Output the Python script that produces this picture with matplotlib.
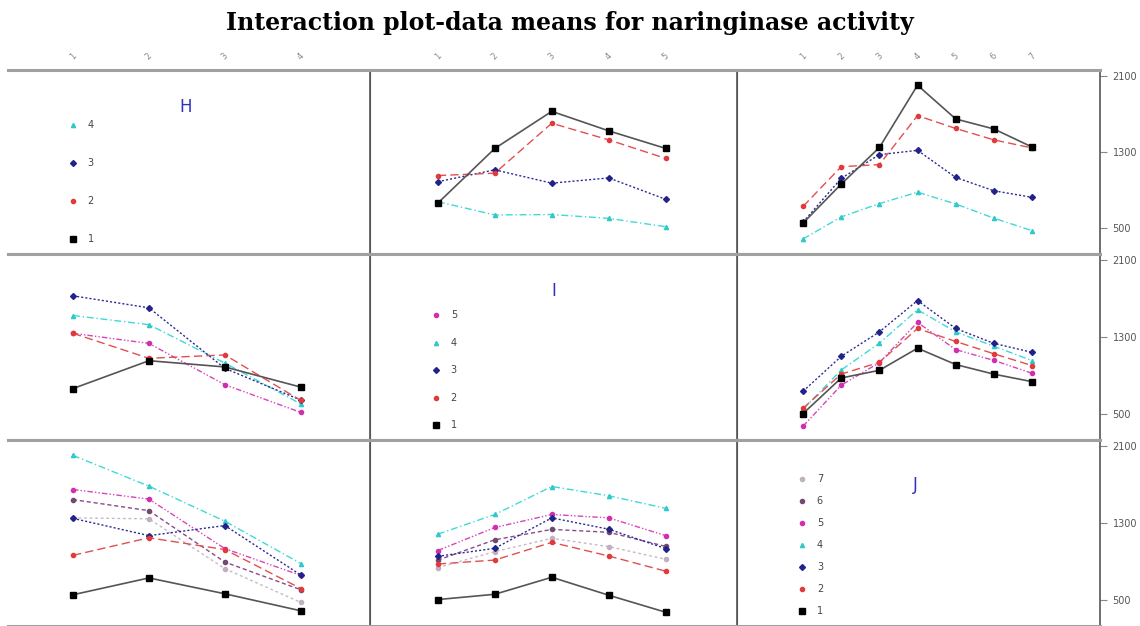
import matplotlib
matplotlib.use("Agg")
import matplotlib.pyplot as plt

# factor levels
h_levels = [1, 2, 3, 4]
i_levels = [1, 2, 3, 4, 5]
j_levels = [1, 2, 3, 4, 5, 6, 7]

# cell means, rows = first factor, cols = second factor
hi_means = [
    [760, 1335, 1725, 1520, 1335],
    [1050, 1075, 1600, 1425, 1230],
    [985, 1110, 970, 1025, 800],
    [775, 636, 640, 600, 512],
]
hj_means = [
    [550, 960, 1345, 2000, 1645, 1540, 1350],
    [725, 1143, 1165, 1680, 1545, 1425, 1340],
    [560, 1020, 1270, 1315, 1030, 890, 821],
    [383, 615, 755, 875, 751, 602, 470],
]
ij_means = [
    [500, 870, 950, 1180, 1010, 910, 832],
    [555, 911, 1033, 1385, 1250, 1122, 999],
    [732, 1095, 1350, 1676, 1385, 1230, 1137],
    [545, 953, 1232, 1580, 1350, 1200, 1051],
    [368, 795, 1030, 1449, 1165, 1053, 919],
]
y_ticks = [500, 1300, 2100]
title = "Interaction plot-data means for naringinase activity"

# style per level
line_cols = ['#555555', '#e05050', '#2a2a95', '#40d8d8', '#d845b8', '#8a4a8a', '#c8b8c8']
mark_cols = ['black', '#e03a3a', '#22228a', '#30c8c8', '#d030b0', '#704a70', '#c0b0c0']
styles = ['-', (0, (6, 3)), (0, (1.5, 1.5)), (0, (5, 2, 1, 2)), (0, (4, 1.5, 1, 1.5, 1, 1.5)),
          (0, (3, 2)), (0, (2, 2))]
markers = ['s', 'o', 'D', '^', 'o', 'o', 'o']
msizes = [5, 3, 3, 3, 3, 3, 3]

fig = plt.figure(figsize=(11.4, 6.26), dpi=100)
W, H = 1140.0, 626.0
cols_px = [(8, 370), (370, 737), (737, 1100)]
rows_px = [(70, 254), (254, 440), (440, 626)]
xlims = [(0.145, 4.91), (-0.19, 6.25), (-0.73, 8.78)]
levels = [h_levels, i_levels, j_levels]
names = ['H', 'I', 'J']

def draw(ax, x, series):
    n = len(series)
    for k in range(n - 1, -1, -1):
        ax.plot(x, series[k], color=line_cols[k], linestyle=styles[k], lw=1.2 if k == 0 else 1.0,
                marker=markers[k], markersize=msizes[k], markerfacecolor=mark_cols[k],
                markeredgecolor=mark_cols[k])

axes = {}
for r in range(3):
    for c in range(3):
        x0, x1 = cols_px[c]
        y0, y1 = rows_px[r]
        ax = fig.add_axes([x0 / W, 1 - y1 / H, (x1 - x0) / W, (y1 - y0) / H])
        ax.set_xlim(*xlims[c])
        ax.set_ylim(225, 2160)
        ax.set_xticks([])
        ax.set_yticks([])
        for s in ['top', 'bottom']:
            ax.spines[s].set_color('#a0a0a0')
            ax.spines[s].set_linewidth(2.2)
        ax.spines['left'].set_visible(c != 0)
        ax.spines['left'].set_color('#555555')
        ax.spines['right'].set_color('#555555')
        ax.spines['right'].set_linewidth(1.2)
        axes[(r, c)] = ax

# off-diagonal panels
draw(axes[(0, 1)], i_levels, hi_means)
draw(axes[(0, 2)], j_levels, hj_means)
draw(axes[(1, 0)], h_levels, [[row[k] for row in hi_means] for k in range(len(i_levels))])
draw(axes[(1, 2)], j_levels, ij_means)
draw(axes[(2, 0)], h_levels, [[row[k] for row in hj_means] for k in range(len(j_levels))])
draw(axes[(2, 1)], i_levels, [[row[k] for row in ij_means] for k in range(len(j_levels))])

# diagonal: factor name and legend
name_pos = [(0.49, 0.8), (0.5, 0.8), (0.49, 0.76)]
leg_top = [(0.7, 0.08), (0.67, 0.08), (0.79, 0.08)]
for d in range(3):
    ax = axes[(d, d)]
    lv = levels[d]
    ax.text(name_pos[d][0], name_pos[d][1], names[d], transform=ax.transAxes,
            color='#3030c0', fontsize=12, ha='center', va='center')
    top, bot = leg_top[d]
    n = len(lv)
    for k in range(n):
        yy = bot + (top - bot) * k / (n - 1)
        ax.plot([0.18], [yy], transform=ax.transAxes, marker=markers[k],
                markersize=4 if k == 0 else 3, color=mark_cols[k], linestyle='none')
        ax.text(0.22, yy, str(lv[k]), transform=ax.transAxes, fontsize=7,
                color='#444444', va='center', ha='left')

# top tick labels
for c in range(3):
    ax = axes[(0, c)]
    ax.xaxis.set_ticks_position('top')
    ax.set_xticks(levels[c])
    ax.set_xticklabels([str(v) for v in levels[c]], rotation=45, fontsize=6, color='#888888')
    ax.tick_params(axis='x', length=0, pad=6)

# right y-axis
for r in range(3):
    ax = axes[(r, 2)]
    ax.yaxis.set_ticks_position('right')
    ax.set_yticks(y_ticks)
    ax.set_yticklabels([str(v) for v in y_ticks], fontsize=7, color='#555555')
    ax.tick_params(axis='y', direction='out', length=5, color='#888888', pad=4)

fig.text(0.5, 0.963, title, ha='center', va='center', fontsize=17,
         fontweight='bold', family='DejaVu Serif')

fig.savefig('out.png', dpi=100)
